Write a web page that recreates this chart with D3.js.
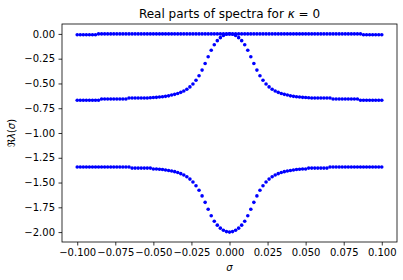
<!DOCTYPE html>
<html>
<head>
<meta charset="utf-8">
<script src="https://cdn.jsdelivr.net/npm/d3@7"></script>
<style>
  html, body { margin: 0; padding: 0; background: #fff; }
  svg { display: block; font-family: "DejaVu Sans", sans-serif; }
</style>
</head>
<body>
<div id="chart"></div>
<script>
// σ grid (step 0.002)
const sigma = [
  -0.100,-0.098,-0.096,-0.094,-0.092,-0.090,-0.088,-0.086,-0.084,-0.082,
  -0.080,-0.078,-0.076,-0.074,-0.072,-0.070,-0.068,-0.066,-0.064,-0.062,
  -0.060,-0.058,-0.056,-0.054,-0.052,-0.050,-0.048,-0.046,-0.044,-0.042,
  -0.040,-0.038,-0.036,-0.034,-0.032,-0.030,-0.028,-0.026,-0.024,-0.022,
  -0.020,-0.018,-0.016,-0.014,-0.012,-0.010,-0.008,-0.006,-0.004,-0.002,
  0.000,
  0.002,0.004,0.006,0.008,0.010,0.012,0.014,0.016,0.018,0.020,
  0.022,0.024,0.026,0.028,0.030,0.032,0.034,0.036,0.038,0.040,
  0.042,0.044,0.046,0.048,0.050,0.052,0.054,0.056,0.058,0.060,
  0.062,0.064,0.066,0.068,0.070,0.072,0.074,0.076,0.078,0.080,
  0.082,0.084,0.086,0.088,0.090,0.092,0.094,0.096,0.098,0.100,
];

// upper branch
const reTop = [
  -0.008,-0.008,-0.008,-0.008,-0.008,-0.008,-0.008,0,0,0,
  0,0,0,0,0,0,0,0,0,0,
  0,0,0,0,0,0,0,0,0,0,
  0,0,0,0,0,0,0,0,0,0,
  0,0,0,0,0,0,0,0,0,0,
  0,
  0,0,0,0,0,0,0,0,0,0,
  0,0,0,0,0,0,0,0,0,0,
  0,0,0,0,0,0,0,0,0,0,
  0,0,0,0,0,0,0,0,0,0,
  0,0,0,-0.008,-0.008,-0.008,-0.008,-0.008,-0.008,-0.008,
];

// middle branch (bump up to 0 at σ = 0)
const reMid = [
  -0.67,-0.67,-0.67,-0.67,-0.67,-0.67,-0.67,-0.67,-0.657,-0.657,
  -0.657,-0.657,-0.657,-0.657,-0.657,-0.657,-0.657,-0.647,-0.647,-0.647,
  -0.647,-0.647,-0.647,-0.647,-0.644,-0.642,-0.64,-0.637,-0.634,-0.63,
  -0.625,-0.617,-0.61,-0.601,-0.59,-0.576,-0.558,-0.535,-0.505,-0.468,
  -0.422,-0.365,-0.298,-0.23,-0.165,-0.11,-0.068,-0.038,-0.016,-0.004,
  0,
  -0.004,-0.016,-0.038,-0.068,-0.11,-0.165,-0.23,-0.298,-0.365,-0.422,
  -0.468,-0.505,-0.535,-0.558,-0.576,-0.59,-0.601,-0.61,-0.617,-0.625,
  -0.63,-0.634,-0.637,-0.64,-0.642,-0.644,-0.647,-0.647,-0.647,-0.647,
  -0.647,-0.647,-0.647,-0.657,-0.657,-0.657,-0.657,-0.657,-0.657,-0.657,
  -0.657,-0.657,-0.67,-0.67,-0.67,-0.67,-0.67,-0.67,-0.67,-0.67,
];

// lower branch (dip down to -2 at σ = 0)
const reLow = [
  -1.343,-1.343,-1.343,-1.343,-1.343,-1.343,-1.343,-1.343,-1.343,-1.343,
  -1.343,-1.343,-1.343,-1.343,-1.343,-1.343,-1.343,-1.343,-1.354,-1.354,
  -1.354,-1.354,-1.354,-1.354,-1.354,-1.364,-1.364,-1.366,-1.369,-1.373,
  -1.378,-1.383,-1.39,-1.399,-1.41,-1.424,-1.442,-1.465,-1.495,-1.532,
  -1.578,-1.635,-1.70,-1.77,-1.835,-1.89,-1.93,-1.96,-1.982,-1.995,
  -2.0,
  -1.995,-1.982,-1.96,-1.93,-1.89,-1.835,-1.77,-1.70,-1.635,-1.578,
  -1.532,-1.495,-1.465,-1.442,-1.424,-1.41,-1.399,-1.39,-1.383,-1.378,
  -1.373,-1.369,-1.366,-1.364,-1.364,-1.354,-1.354,-1.354,-1.354,-1.354,
  -1.354,-1.354,-1.343,-1.343,-1.343,-1.343,-1.343,-1.343,-1.343,-1.343,
  -1.343,-1.343,-1.343,-1.343,-1.343,-1.343,-1.343,-1.343,-1.343,-1.343,
];

const xTicks = [-0.100,-0.075,-0.050,-0.025,0.000,0.025,0.050,0.075,0.100];
const yTicks = [0.00,-0.25,-0.50,-0.75,-1.00,-1.25,-1.50,-1.75,-2.00];

const W = 403, H = 280;
const box = { left: 62, top: 24, right: 397, bottom: 242 };

const svg = d3.select("#chart").append("svg")
  .attr("width", W).attr("height", H);

const x = d3.scaleLinear().domain([-0.11, 0.11]).range([box.left, box.right]);
const y = d3.scaleLinear().domain([-2.1, 0.1]).range([box.bottom, box.top]);

const fmt = d => (d < 0 ? "\u2212" : "") + Math.abs(d).toFixed(3);
const fmtY = d => (d < 0 ? "\u2212" : "") + Math.abs(d).toFixed(2);

// ── Points ──
const dots = svg.append("g");
for (const series of [reTop, reMid, reLow]) {
  dots.append("g").selectAll("circle")
    .data(sigma.map((s, i) => [s, series[i]]))
    .join("circle")
    .attr("cx", d => x(d[0]))
    .attr("cy", d => y(d[1]))
    .attr("r", 1.8)
    .attr("fill", "#0000ff");
}

// ── Axes ──
const xAxis = svg.append("g")
  .attr("transform", `translate(0,${box.bottom})`)
  .call(d3.axisBottom(x).tickValues(xTicks).tickFormat(fmt).tickSize(3.5).tickPadding(3.5));
const yAxis = svg.append("g")
  .attr("transform", `translate(${box.left},0)`)
  .call(d3.axisLeft(y).tickValues(yTicks).tickFormat(fmtY).tickSize(3.5).tickPadding(3.5));

for (const ax of [xAxis, yAxis]) {
  ax.select(".domain").remove();
  ax.selectAll("line").attr("stroke", "#000").attr("stroke-width", 0.8);
  ax.selectAll("text")
    .attr("fill", "#000")
    .style("font-family", "'DejaVu Sans', sans-serif")
    .style("font-size", "10px");
}

svg.append("rect")
  .attr("x", box.left).attr("y", box.top)
  .attr("width", box.right - box.left).attr("height", box.bottom - box.top)
  .attr("fill", "none").attr("stroke", "#000").attr("stroke-width", 0.8);

// ── Title & labels ──
const title = svg.append("text")
  .attr("x", (box.left + box.right) / 2).attr("y", 18)
  .attr("text-anchor", "middle")
  .style("font-size", "12px").attr("fill", "#000");
title.append("tspan").text("Real parts of spectra for ");
title.append("tspan").style("font-style", "italic").text("\u03ba");
title.append("tspan").text(" = 0");

svg.append("text")
  .attr("x", (box.left + box.right) / 2).attr("y", 271)
  .attr("text-anchor", "middle")
  .style("font-size", "10px").style("font-style", "italic").attr("fill", "#000")
  .text("\u03c3");

const yl = svg.append("text")
  .attr("transform", `translate(15,${(box.top + box.bottom) / 2}) rotate(-90)`)
  .attr("text-anchor", "middle")
  .style("font-size", "10px").attr("fill", "#000");
yl.append("tspan").text("\u211c");
yl.append("tspan").style("font-style", "italic").text("\u03bb");
yl.append("tspan").text("(");
yl.append("tspan").style("font-style", "italic").text("\u03c3");
yl.append("tspan").text(")");
</script>
</body>
</html>
